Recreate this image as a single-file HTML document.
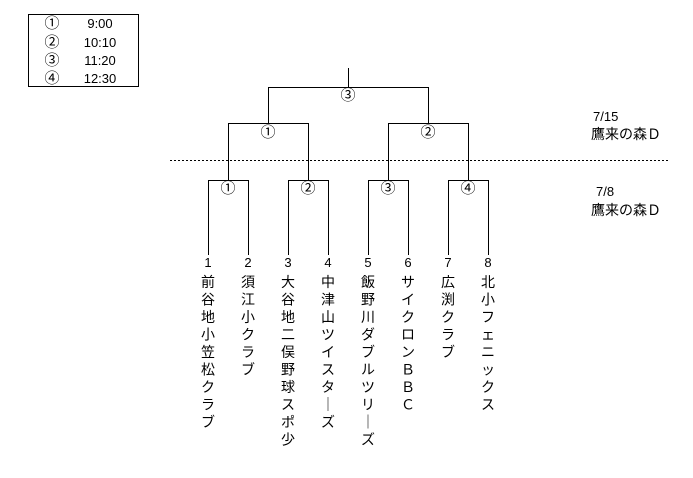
<!DOCTYPE html>
<html><head><meta charset="utf-8"><style>
html,body{margin:0;padding:0;background:#fff;width:693px;height:478px;overflow:hidden}
svg{display:block}
text{font-family:"Liberation Sans","Noto Sans CJK JP",sans-serif;fill:#000}
.n{font-family:"Liberation Sans Narrow","Liberation Sans",sans-serif;font-size:13px}
.j{font-size:14px}
</style></head><body>
<svg width="693" height="478" viewBox="0 0 693 478" xmlns="http://www.w3.org/2000/svg">
<g stroke="#000" stroke-width="1" fill="none" shape-rendering="crispEdges">
<rect x="28.5" y="14.5" width="110" height="72"/>
<path d="M348.5 68V87.5M268.5 123V87.5H428.5V123M228.5 180V123.5H308.5V180M388.5 180V123.5H468.5V180"/>
<path d="M208.5 255V180.5H248.5V255M288.5 255V180.5H328.5V255M368.5 255V180.5H408.5V255M448.5 255V180.5H488.5V255"/>
<line x1="170" y1="160.5" x2="668" y2="160.5" stroke-dasharray="2,2"/>
</g>
<g text-anchor="middle" font-size="15">
<text x="52" y="28">①</text><text x="52" y="47">②</text><text x="52" y="65">③</text><text x="52" y="83">④</text>
<text x="348" y="100">③</text>
<text x="268" y="137">①</text><text x="428" y="137">②</text>
<text x="228" y="193">①</text><text x="308" y="193">②</text><text x="388" y="193">③</text><text x="468" y="193">④</text>
</g>
<g class="n" text-anchor="middle">
<text x="100" y="28">9:00</text><text x="100" y="47">10:10</text><text x="100" y="65">11:20</text><text x="100" y="83">12:30</text>
</g>
<g class="n">
<text x="593" y="121">7/15</text><text x="596" y="196">7/8</text>
</g>
<g class="j">
<text x="591" y="139">鷹来の森Ｄ</text><text x="591" y="215">鷹来の森Ｄ</text>
</g>
<g class="n" text-anchor="middle">
<text x="208" y="267">1</text><text x="248" y="267">2</text><text x="288" y="267">3</text><text x="328" y="267">4</text>
<text x="368" y="267">5</text><text x="408" y="267">6</text><text x="448" y="267">7</text><text x="488" y="267">8</text>
</g>
<g text-anchor="middle" font-size="14">
<text x="208" y="287"><tspan x="208">前</tspan><tspan x="208" dy="17.5">谷</tspan><tspan x="208" dy="17.5">地</tspan><tspan x="208" dy="17.5">小</tspan><tspan x="208" dy="17.5">笠</tspan><tspan x="208" dy="17.5">松</tspan><tspan x="208" dy="17.5">ク</tspan><tspan x="208" dy="17.5">ラ</tspan><tspan x="208" dy="17.5">ブ</tspan></text>
<text x="248" y="287"><tspan x="248">須</tspan><tspan x="248" dy="17.5">江</tspan><tspan x="248" dy="17.5">小</tspan><tspan x="248" dy="17.5">ク</tspan><tspan x="248" dy="17.5">ラ</tspan><tspan x="248" dy="17.5">ブ</tspan></text>
<text x="288" y="287"><tspan x="288">大</tspan><tspan x="288" dy="17.5">谷</tspan><tspan x="288" dy="17.5">地</tspan><tspan x="288" dy="17.5">二</tspan><tspan x="288" dy="17.5">俣</tspan><tspan x="288" dy="17.5">野</tspan><tspan x="288" dy="17.5">球</tspan><tspan x="288" dy="17.5">ス</tspan><tspan x="288" dy="17.5">ポ</tspan><tspan x="288" dy="17.5">少</tspan></text>
<text x="328" y="287"><tspan x="328">中</tspan><tspan x="328" dy="17.5">津</tspan><tspan x="328" dy="17.5">山</tspan><tspan x="328" dy="17.5">ツ</tspan><tspan x="328" dy="17.5">イ</tspan><tspan x="328" dy="17.5">ス</tspan><tspan x="328" dy="17.5">タ</tspan><tspan x="328" dy="17.5">｜</tspan><tspan x="328" dy="17.5">ズ</tspan></text>
<text x="368" y="287"><tspan x="368">飯</tspan><tspan x="368" dy="17.5">野</tspan><tspan x="368" dy="17.5">川</tspan><tspan x="368" dy="17.5">ダ</tspan><tspan x="368" dy="17.5">ブ</tspan><tspan x="368" dy="17.5">ル</tspan><tspan x="368" dy="17.5">ツ</tspan><tspan x="368" dy="17.5">リ</tspan><tspan x="368" dy="17.5">｜</tspan><tspan x="368" dy="17.5">ズ</tspan></text>
<text x="408" y="287"><tspan x="408">サ</tspan><tspan x="408" dy="17.5">イ</tspan><tspan x="408" dy="17.5">ク</tspan><tspan x="408" dy="17.5">ロ</tspan><tspan x="408" dy="17.5">ン</tspan><tspan x="408" dy="17.5">Ｂ</tspan><tspan x="408" dy="17.5">Ｂ</tspan><tspan x="408" dy="17.5">Ｃ</tspan></text>
<text x="448" y="287"><tspan x="448">広</tspan><tspan x="448" dy="17.5">渕</tspan><tspan x="448" dy="17.5">ク</tspan><tspan x="448" dy="17.5">ラ</tspan><tspan x="448" dy="17.5">ブ</tspan></text>
<text x="488" y="287"><tspan x="488">北</tspan><tspan x="488" dy="17.5">小</tspan><tspan x="488" dy="17.5">フ</tspan><tspan x="488" dy="17.5">ェ</tspan><tspan x="488" dy="17.5">ニ</tspan><tspan x="488" dy="17.5">ッ</tspan><tspan x="488" dy="17.5">ク</tspan><tspan x="488" dy="17.5">ス</tspan></text>
</g>
</svg>
</body></html>
